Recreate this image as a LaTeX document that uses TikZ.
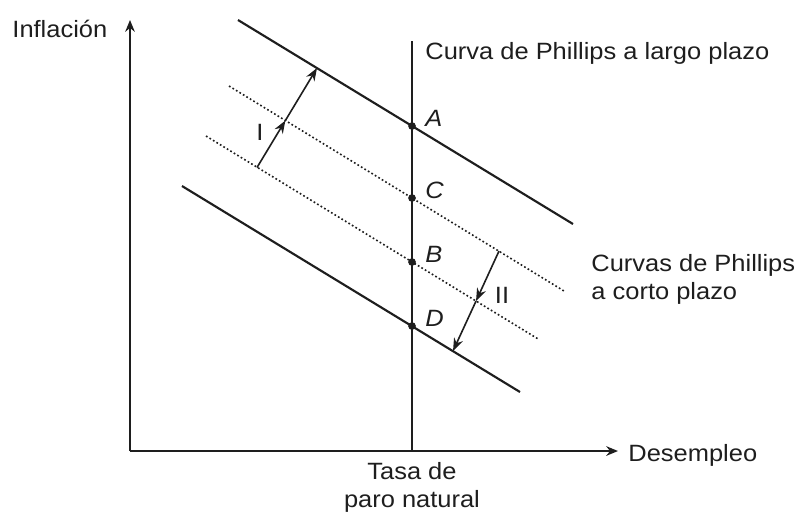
\documentclass[tikz,border=0pt]{standalone}
\usepackage{fontspec}
\setmainfont[FakeStretch=1.08]{Liberation Sans}
\usepackage{tikz}
\usetikzlibrary{positioning,arrows.meta,calc}
\definecolor{inkgray}{HTML}{1E1E1E}

\begin{document}
\begin{tikzpicture}[
    x=0.0164cm, y=-0.0164cm,
    axisArrow/.style={-{Stealth[length=5.5pt, width=4.5pt]}, draw=inkgray, line width=0.8pt},
    curveSolid/.style={draw=inkgray, line width=1pt},
    curveDotted/.style={draw=inkgray, line width=0.75pt, dash pattern=on 0.8pt off 1.1pt},
    shiftArrow/.style={-{Stealth[length=6pt, width=4.4pt]}, draw=inkgray, line width=0.75pt},
    dotMark/.style={circle, fill=inkgray, inner sep=0pt, minimum size=3.6pt},
    pointLabel/.style={font=\fontsize{11}{13}\selectfont\itshape, text=inkgray, inner sep=0pt, anchor=base west},
    plainLabel/.style={font=\fontsize{11}{13}\selectfont, text=inkgray, inner sep=0pt}
]
    \useasboundingbox (0,0) rectangle (803,513);

    % Axes
    \coordinate (origin) at (130,451);
    \coordinate (yTip) at (130,20);
    \coordinate (xTip) at (618,451);
    \draw[axisArrow] (origin) -- (yTip);
    \draw[axisArrow] (origin) -- (xTip);
    \node[plainLabel, anchor=base west] (inflLabel) at (12,37) {Inflación};
    \node[plainLabel, anchor=base west] (desLabel) at (628,461) {Desempleo};

    % Long-run Phillips curve
    \coordinate (lrTop) at (412,41);
    \coordinate (lrBottom) at (412,451);
    \draw[curveSolid] (lrBottom) -- (lrTop);
    \node[plainLabel, below=5pt of lrBottom, align=center] (natLabel) {Tasa de\\paro natural};
    \node[plainLabel, anchor=base west] (lrLabel) at (425,59) {Curva de Phillips a largo plazo};

    % Short-run Phillips curves
    \coordinate (srHighStart) at (238,20);
    \coordinate (srHighEnd) at (573,224);
    \coordinate (dotHighStart) at (229,86);
    \coordinate (dotHighEnd) at (564,291);
    \coordinate (dotLowStart) at (206,136);
    \coordinate (dotLowEnd) at (539,339.5);
    \coordinate (srLowStart) at (182,186);
    \coordinate (srLowEnd) at (520,392);
    \draw[curveSolid] (srHighStart) -- (srHighEnd);
    \draw[curveDotted] (dotHighStart) -- (dotHighEnd);
    \draw[curveDotted] (dotLowStart) -- (dotLowEnd);
    \draw[curveSolid] (srLowStart) -- (srLowEnd);
    \node[plainLabel, anchor=north west, align=left] (srLabel) at (591,254) {Curvas de Phillips\\a corto plazo};

    % Points on the long-run curve
    \node[dotMark] (ptA) at (412,126) {};
    \node[dotMark] (ptC) at (412,198) {};
    \node[dotMark] (ptB) at (412,262) {};
    \node[dotMark] (ptD) at (412,326) {};
    \node[pointLabel] (labA) at ([xshift=6pt]ptA.center) {A};
    \node[pointLabel] (labC) at ([xshift=6pt]ptC.center) {C};
    \node[pointLabel] (labB) at ([xshift=6pt]ptB.center) {B};
    \node[pointLabel] (labD) at ([xshift=6pt]ptD.center) {D};

    % Shift I (upwards)
    \coordinate (shiftIStart) at (257,167.5);
    \coordinate (shiftIEnd) at (317,68);
    \coordinate (shiftIMid) at (intersection of shiftIStart--shiftIEnd and dotHighStart--dotHighEnd);
    \draw[shiftArrow] (shiftIStart) -- (shiftIMid);
    \draw[shiftArrow] (shiftIMid) -- (shiftIEnd);
    \node[plainLabel] (labI) at (260,132) {I};

    % Shift II (downwards)
    \coordinate (shiftIIStart) at (499,251);
    \coordinate (shiftIIEnd) at (453,351);
    \coordinate (shiftIIMid) at (intersection of shiftIIStart--shiftIIEnd and dotLowStart--dotLowEnd);
    \draw[shiftArrow] (shiftIIStart) -- (shiftIIMid);
    \draw[shiftArrow] (shiftIIMid) -- (shiftIIEnd);
    \node[plainLabel] (labII) at (502,295) {II};

\end{tikzpicture}
\end{document}
